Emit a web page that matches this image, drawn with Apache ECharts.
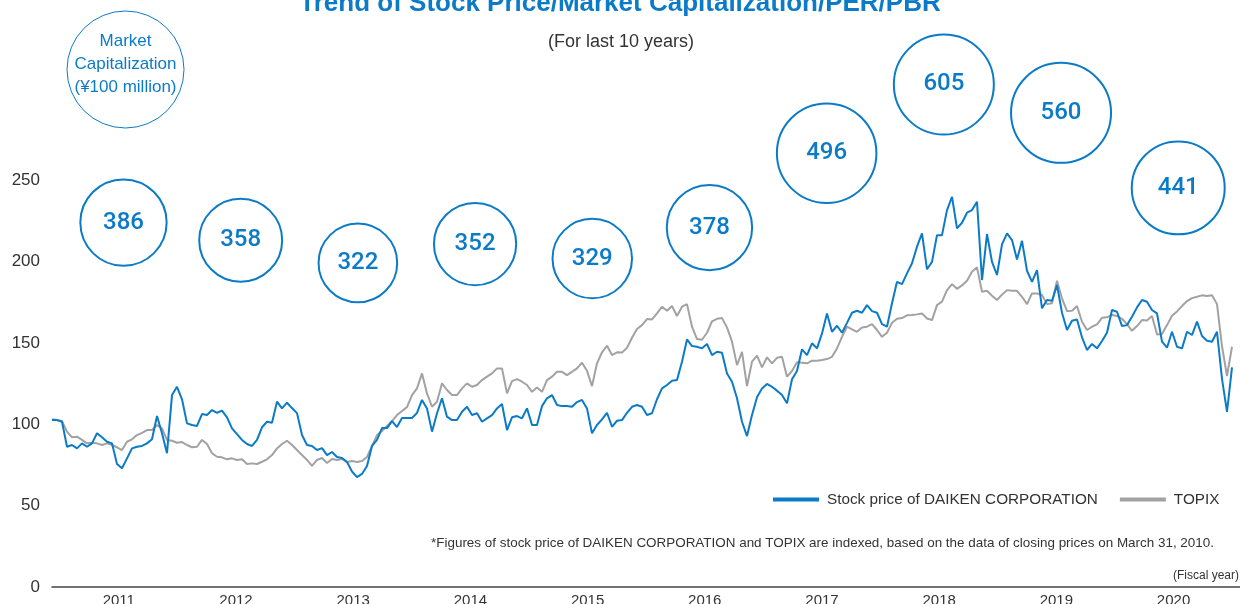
<!DOCTYPE html>
<html>
<head>
<meta charset="utf-8">
<title>Trend of Stock Price/Market Capitalization/PER/PBR</title>
<script src="https://cdn.jsdelivr.net/npm/echarts@6/dist/echarts.min.js"></script>
<style>
	html, body { margin: 0; padding: 0; background: #fff; }
	#chart { width: 1240px; height: 604px; }
</style>
</head>
<body>
<div id="chart"></div>
<script>
'use strict';

// Fiscal years shown under the axis, and market cap (100 million yen) per year
var years = [2011, 2012, 2013, 2014, 2015, 2016, 2017, 2018, 2019, 2020];
var marketCap = [386, 358, 322, 352, 329, 378, 496, 605, 560, 441];

// Index values (closing price of 2010/3/31 = 100), read about every half month
var stockPrice = [
	102.6, 102.6, 101.6, 86.2, 87.3, 85.2, 88.3, 86.2, 88.3, 94.5,
	92.0, 89.3, 88.3, 75.6, 73.0, 79.1, 85.2, 86.2, 86.7, 88.3,
	90.8, 105.1, 94.5, 82.2, 118.0, 123.1, 115.4, 100.6, 99.6, 99.0,
	106.3, 105.7, 108.8, 107.1, 108.4, 104.3, 97.5, 94.0, 90.4, 87.9,
	86.7, 90.4, 98.2, 101.6, 101.0, 113.9, 109.8, 113.3, 110.0, 106.9,
	93.4, 87.3, 86.7, 84.2, 85.4, 81.1, 83.0, 79.9, 79.3, 76.8,
	71.0, 67.5, 69.5, 74.4, 86.7, 90.4, 97.7, 97.7, 102.0, 98.3,
	103.9, 103.9, 103.9, 107.0, 115.0, 109.8, 95.5, 106.8, 116.0, 104.7,
	102.6, 102.6, 107.7, 110.8, 105.7, 106.8, 101.6, 103.7, 105.7, 109.8,
	112.5, 96.5, 104.3, 105.1, 103.7, 109.8, 99.6, 99.6, 111.2, 116.0,
	118.0, 111.9, 111.2, 111.2, 110.8, 113.7, 115.0, 109.8, 94.5, 99.6,
	103.1, 107.1, 98.5, 102.2, 102.6, 107.1, 110.8, 111.9, 110.8, 105.7,
	106.8, 115.4, 122.1, 124.2, 126.8, 127.2, 138.5, 152.2, 148.1, 147.7,
	146.7, 149.4, 142.6, 144.6, 144.0, 131.3, 126.2, 116.0, 101.6, 92.8,
	105.7, 116.6, 122.1, 124.8, 123.1, 120.7, 118.0, 112.9, 127.7, 132.8,
	146.1, 142.6, 149.8, 146.7, 155.9, 168.2, 156.9, 160.6, 156.3, 162.4,
	168.6, 169.8, 168.6, 173.3, 169.6, 168.6, 161.6, 160.0, 174.4, 187.6,
	186.2, 192.8, 199.0, 209.2, 217.4, 195.3, 199.9, 216.3, 216.3, 231.7,
	239.9, 220.5, 223.9, 230.1, 231.7, 236.8, 188.7, 217.0, 199.9, 191.8,
	210.6, 217.4, 213.3, 201.4, 212.8, 194.4, 187.6, 194.8, 171.3, 176.4,
	176.0, 185.6, 168.6, 158.0, 163.7, 164.5, 153.5, 145.7, 149.4, 146.7,
	151.2, 156.3, 170.3, 169.2, 160.4, 161.0, 166.1, 171.9, 176.4, 175.4,
	170.3, 168.2, 150.8, 147.1, 156.9, 147.7, 146.7, 156.9, 154.9, 163.1,
	154.3, 151.4, 150.8, 156.9, 128.0, 107.7, 135.0
];

var topix = [
	103.1, 102.6, 102.0, 95.5, 92.0, 92.4, 90.4, 88.3, 88.7, 88.3,
	87.3, 88.3, 87.3, 85.9, 84.2, 89.3, 90.8, 93.4, 94.8, 96.5,
	96.5, 99.6, 97.5, 90.4, 89.9, 88.7, 89.1, 87.3, 85.9, 86.2,
	90.4, 87.9, 82.2, 80.1, 79.7, 78.5, 79.1, 78.1, 78.5, 75.6,
	76.0, 75.6, 77.0, 78.5, 81.1, 85.2, 87.9, 89.9, 87.3, 84.2,
	81.1, 78.1, 74.4, 78.1, 79.3, 76.2, 78.7, 78.1, 78.7, 76.8,
	77.4, 76.8, 77.4, 79.9, 86.7, 93.4, 95.9, 99.0, 102.0, 105.7,
	108.2, 110.6, 118.0, 122.1, 131.3, 119.0, 110.8, 113.9, 125.2, 121.1,
	118.0, 118.0, 122.1, 125.2, 123.1, 124.2, 127.2, 129.3, 131.3, 134.4,
	134.4, 119.0, 126.6, 127.8, 126.2, 124.2, 120.0, 122.7, 120.0, 127.2,
	129.3, 132.3, 132.3, 130.3, 132.3, 134.4, 137.9, 132.9, 123.5, 137.5,
	144.3, 148.3, 142.6, 144.3, 144.1, 147.1, 153.2, 158.6, 161.0, 164.7,
	164.5, 168.2, 172.3, 169.8, 172.7, 166.6, 172.3, 173.9, 160.0, 152.4,
	152.0, 156.3, 163.3, 164.9, 165.3, 159.6, 150.8, 136.4, 144.6, 123.5,
	138.5, 142.2, 135.0, 141.2, 137.5, 140.9, 141.5, 129.3, 132.8, 138.1,
	137.9, 137.5, 139.1, 139.1, 139.5, 140.1, 141.5, 146.7, 153.8, 160.0,
	158.4, 156.9, 159.6, 160.0, 161.6, 158.0, 153.8, 156.3, 162.4, 164.9,
	165.3, 167.0, 167.2, 167.6, 168.2, 165.1, 164.1, 173.3, 175.4, 182.5,
	186.2, 183.3, 185.4, 188.3, 193.8, 196.5, 181.5, 182.1, 179.0, 176.4,
	179.7, 182.5, 182.1, 182.1, 178.4, 173.9, 180.5, 180.5, 179.5, 173.9,
	174.4, 188.3, 177.4, 169.6, 169.8, 172.7, 163.1, 158.0, 160.0, 161.5,
	165.5, 165.8, 167.2, 166.6, 164.9, 161.6, 157.5, 160.4, 164.1, 163.9,
	166.6, 155.3, 155.5, 161.0, 166.8, 169.4, 172.7, 175.8, 177.6, 178.4,
	179.3, 178.9, 179.3, 173.9, 148.0, 129.7, 147.7
];

var BLUE = '#0b7bc8',
		GRAY = '#a2a2a2',
		TEXT = '#333',
		FONT = '"Liberation Sans", Arial, sans-serif';

function toPoints(values) {
	return values.map(function (v, i) { return [i, v]; });
}

var chart = echarts.init(document.getElementById('chart'));

var option = {
	animation: false,
	textStyle: { fontFamily: FONT },
	grid: { left: 52, right: 0, top: 99, bottom: 17, containLabel: false, outerBoundsMode: 'none' },
	legend: {
		left: 768,
		top: 487,
		icon: 'rect',
		itemWidth: 46,
		itemHeight: 4,
		itemGap: 22,
		data: ['Stock price of DAIKEN CORPORATION', 'TOPIX'],
		textStyle: { fontSize: 15.3, color: TEXT, fontFamily: FONT, padding: [0, 0, 0, 3] }
	},
	xAxis: [
		{
			type: 'value',
			min: 0,
			max: 237.6,
			axisLine: { show: true, lineStyle: { color: '#444', width: 1.5 } },
			axisTick: { show: false },
			axisLabel: { show: false },
			splitLine: { show: false }
		},
		{
			type: 'value',
			position: 'bottom',
			min: 2010.43,
			max: 2020.567,
			axisLine: { show: false },
			axisTick: { show: false },
			splitLine: { show: false },
			axisLabel: {
				customValues: years,
				margin: 6,
				fontSize: 15,
				color: TEXT,
				fontFamily: FONT,
				formatter: function (v) { return String(v); }
			}
		},
		{
			// hidden year scale for the market cap circles
			type: 'value',
			min: 2010.39,
			max: 2020.527,
			show: false
		}
	],
	yAxis: [
		{
			type: 'value',
			min: 0,
			max: 300,
			interval: 50,
			axisLine: { show: false },
			axisTick: { show: false },
			splitLine: { show: false },
			axisLabel: { showMaxLabel: false, margin: 12, fontSize: 17, color: TEXT, fontFamily: FONT }
		},
		{
			// hidden scale for the market cap circles
			type: 'value',
			min: -192,
			max: 582,
			show: false
		}
	],
	series: [
		{
			name: 'TOPIX',
			type: 'line',
			data: toPoints(topix),
			showSymbol: false,
			symbol: 'none',
			color: GRAY,
			lineStyle: { color: GRAY, width: 2 },
			z: 2
		},
		{
			name: 'Stock price of DAIKEN CORPORATION',
			type: 'line',
			data: toPoints(stockPrice),
			showSymbol: false,
			symbol: 'none',
			color: BLUE,
			lineStyle: { color: BLUE, width: 2 },
			z: 3
		},
		{
			name: 'Market Capitalization',
			type: 'scatter',
			xAxisIndex: 2,
			yAxisIndex: 1,
			clip: false,
			z: 4,
			data: years.map(function (y, i) { return [y, marketCap[i]]; }),
			symbol: 'circle',
			symbolSize: function (d) { return Math.min(100, 40 + d[1] * 0.12); },
			itemStyle: { color: '#fff', borderColor: BLUE, borderWidth: 2, opacity: 1 },
			label: {
				show: true,
				position: 'inside',
				formatter: function (p) { return p.value[1]; },
				color: BLUE,
				fontSize: 24,
				fontWeight: 500,
				fontFamily: 'Roboto, ' + FONT
			},
			emphasis: { disabled: true }
		}
	],
	graphic: [
		{
			type: 'text', x: 620, y: 4,
			style: { text: 'Trend of Stock Price/Market Capitalization/PER/PBR', font: 'bold 26px ' + FONT, fill: BLUE, align: 'center', verticalAlign: 'middle' }
		},
		{
			type: 'text', x: 621, y: 42,
			style: { text: '(For last 10 years)', font: '18px ' + FONT, fill: TEXT, align: 'center', verticalAlign: 'middle' }
		},
		{
			type: 'circle',
			shape: { cx: 125.5, cy: 69.5, r: 58.5 },
			style: { fill: 'none', stroke: BLUE, lineWidth: 1 }
		},
		{
			type: 'text', x: 125.5, y: 41,
			style: { text: 'Market', font: '17px ' + FONT, fill: BLUE, align: 'center', verticalAlign: 'middle' }
		},
		{
			type: 'text', x: 125.5, y: 64.5,
			style: { text: 'Capitalization', font: '17px ' + FONT, fill: BLUE, align: 'center', verticalAlign: 'middle' }
		},
		{
			type: 'text', x: 125.5, y: 87.5,
			style: { text: '(\u00a5100 million)', font: '17px ' + FONT, fill: BLUE, align: 'center', verticalAlign: 'middle' }
		},
		{
			type: 'text', x: 1214, y: 543,
			style: { text: '*Figures of stock price of DAIKEN CORPORATION and TOPIX are indexed, based on the data of closing prices on March 31, 2010.', font: '13.45px ' + FONT, fill: TEXT, align: 'right', verticalAlign: 'middle' }
		},
		{
			type: 'text', x: 1239, y: 576,
			style: { text: '(Fiscal year)', font: '12px ' + FONT, fill: TEXT, align: 'right', verticalAlign: 'middle' }
		}
	]
};

chart.setOption(option);
</script>
</body>
</html>
